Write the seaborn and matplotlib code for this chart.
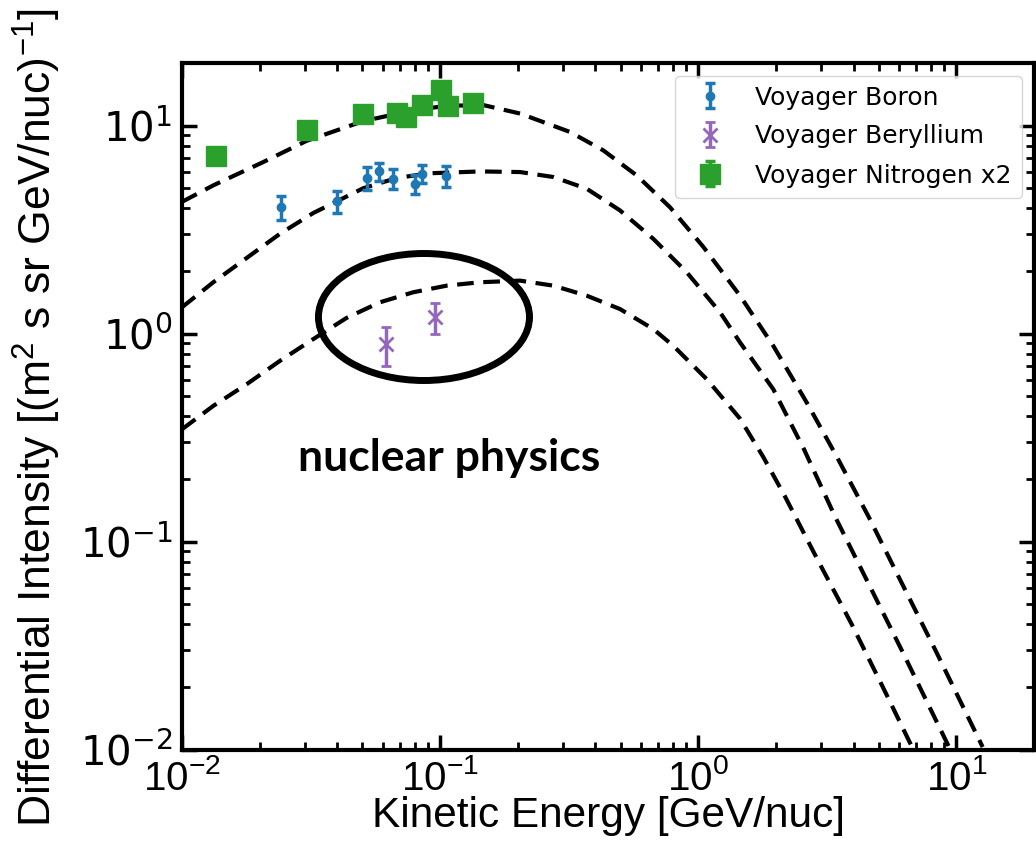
import numpy as np
import pandas as pd
import matplotlib
matplotlib.use("Agg")
import matplotlib.pyplot as plt
import seaborn as sns
from matplotlib import font_manager
from matplotlib.patches import Ellipse

# ---------------- data ----------------
boron_E = [0.0242, 0.0398, 0.0523, 0.0578, 0.0659, 0.0800, 0.0851, 0.1054]
boron_I = [4.06, 4.32, 5.60, 6.02, 5.55, 5.25, 5.87, 5.70]
boron_err = [0.54, 0.51, 0.72, 0.58, 0.62, 0.55, 0.60, 0.66]

beryl_E = [0.0615, 0.0955]
beryl_I = [0.889, 1.197]
beryl_err = [0.19, 0.20]

nitro_E = [0.0136, 0.0304, 0.0501, 0.0679, 0.0738, 0.0849, 0.1005, 0.1070, 0.1338]
nitro_I = [7.11, 9.57, 11.34, 11.5, 10.96, 12.53, 14.8, 12.44, 12.9]
nitro_err = [0.45, 0.6, 0.7, 0.7, 0.7, 0.8, 0.9, 0.8, 0.8]

modelN_E = [0.01, 0.01322, 0.02065, 0.0304, 0.0503, 0.0785, 0.1061, 0.1471, 0.204,
            0.3186, 0.4289, 0.5777, 0.7773, 1.047, 1.452, 1.954, 2.633, 3.42,
            4.568, 6.16, 8.32, 12.65]
modelN_I = [4.30, 5.16, 6.68, 8.45, 10.5, 11.85, 12.45, 12.55, 11.43,
            9.32, 7.60, 5.76, 4.05, 2.61, 1.521, 0.873, 0.466, 0.2598,
            0.1320, 0.0628, 0.02984, 0.01028]

modelB_E = [0.01, 0.01322, 0.01781, 0.02397, 0.03227, 0.0504, 0.0679, 0.0914,
            0.1428, 0.204, 0.2746, 0.370, 0.4977, 0.670, 0.9024, 1.215, 1.452,
            1.954, 2.570, 3.388, 4.568, 6.16, 9.37]
modelB_I = [1.338, 1.765, 2.31, 3.02, 3.80, 5.0, 5.6, 5.9,
            6.02, 5.98, 5.66, 4.97, 3.91, 2.854, 1.972, 1.266, 0.907,
            0.540, 0.2776, 0.132, 0.0628, 0.02984, 0.01028]

modelBe_E = [0.01, 0.01322, 0.01781, 0.02397, 0.03227, 0.04345, 0.0585, 0.0787, 0.1061,
             0.1428, 0.204, 0.2746, 0.370, 0.4977, 0.670, 0.801, 1.079, 1.452,
             1.787, 2.162, 2.912, 3.933, 5.294, 6.736]
modelBe_I = [0.3466, 0.449, 0.571, 0.7396, 0.9409, 1.190, 1.414, 1.58, 1.70,
             1.765, 1.797, 1.70, 1.521, 1.312, 1.051, 0.873, 0.6036, 0.39,
             0.255, 0.166, 0.0810, 0.04003, 0.01901, 0.01028]

labels = ["Voyager Boron", "Voyager Beryllium", "Voyager Nitrogen x2"]
colors = ["#1f77b4", "#9467bd", "#2ca02c"]
annotation = "nuclear physics"

# ---------------- style ----------------
sns.set_style("ticks", {"xtick.direction": "in", "ytick.direction": "in",
                        "axes.edgecolor": "black", "text.color": "black",
                        "xtick.color": "black", "ytick.color": "black",
                        "axes.labelcolor": "black"})
plt.rcParams["font.family"] = ["DejaVu Sans"]
plt.rcParams["mathtext.default"] = "regular"


def pick(fams):
    for f in fams:
        try:
            font_manager.findfont(font_manager.FontProperties(family=f),
                                  fallback_to_default=False)
            return f
        except Exception:
            pass
    return "DejaVu Sans"


narrow = pick(["Liberation Sans Narrow", "Liberation Sans", "DejaVu Sans"])
boldfont = pick(["Lato", "Open Sans", "DejaVu Sans"])

fig = plt.figure(figsize=(10.36, 8.51), dpi=100)
ax = fig.add_axes([182 / 1036, 1 - 749.5 / 851, 852 / 1036, 686.5 / 851])
ax.set_xscale("log")
ax.set_yscale("log")

# model curves
models = pd.concat([
    pd.DataFrame({"E": modelN_E, "I": modelN_I, "model": "N"}),
    pd.DataFrame({"E": modelB_E, "I": modelB_I, "model": "B"}),
    pd.DataFrame({"E": modelBe_E, "I": modelBe_I, "model": "Be"}),
])
sns.lineplot(data=models, x="E", y="I", units="model", estimator=None, sort=False,
             color="black", lw=3, ax=ax, legend=False)
for ln in ax.lines:
    ln.set_dashes([4, 2.3])
    ln.set_solid_joinstyle("round")

# data points
ax.errorbar(boron_E, boron_I, yerr=boron_err, fmt="o", color=colors[0], ms=6,
            elinewidth=2.5, capsize=3.6, capthick=2.5, label=labels[0])
ax.errorbar(beryl_E, beryl_I, yerr=beryl_err, fmt="x", color=colors[1], ms=10, mew=2,
            elinewidth=2.5, capsize=3.6, capthick=2.5, label=labels[1])
ax.errorbar(nitro_E, nitro_I, yerr=nitro_err, fmt="s", color=colors[2], ms=14,
            elinewidth=2.5, capsize=3.6, capthick=2.5, label=labels[2])

ax.set_xlim(1e-2, 20)
ax.set_ylim(1e-2, 20)

for s in ax.spines.values():
    s.set_linewidth(3)
    s.set_visible(True)
    s.set_color("black")
ax.tick_params(which="both", direction="in", top=True, right=True, color="black")
ax.tick_params(which="major", length=11, width=2.5, pad=7)
ax.tick_params(which="minor", length=6, width=2)
ax.tick_params(axis="x", which="major", labelsize=29, labelfontfamily=narrow,
               labelcolor="black")
ax.tick_params(axis="y", which="major", labelsize=29, labelfontfamily="DejaVu Sans",
               labelcolor="black")

ax.set_xlabel("Kinetic Energy [GeV/nuc]", fontsize=30.5, family=narrow, color="black")
ax.set_ylabel("Differential Intensity [(m$^2$ s sr GeV/nuc)$^{-1}$]", fontsize=32,
              family=narrow, color="black")
ax.xaxis.set_label_coords(0.5, -0.068)
ax.yaxis.set_label_coords(-0.14, 0.483)

leg = ax.legend(loc="upper right", fontsize=18, labelspacing=0.6)

ax.add_patch(Ellipse((0.284, 0.630), 0.2477, 0.185, transform=ax.transAxes,
                     fill=False, lw=5, edgecolor="black", zorder=6))
ax.text(0.313, 0.4246, annotation, transform=ax.transAxes, ha="center", va="center",
        fontsize=32, fontweight="bold", family=[boldfont, "DejaVu Sans"], color="black")

fig.savefig("out.png", dpi=100)
